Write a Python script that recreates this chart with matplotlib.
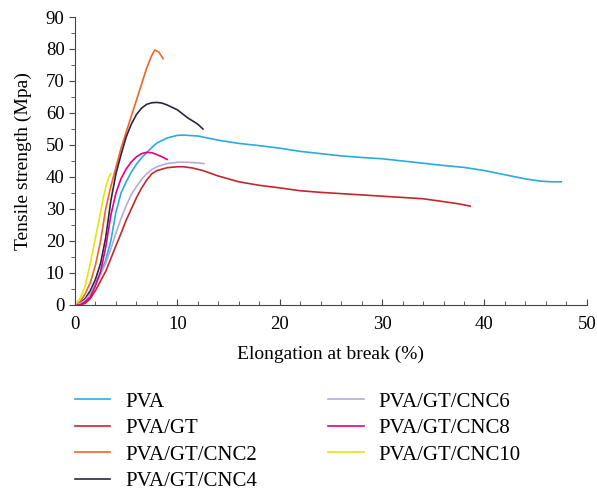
import matplotlib
matplotlib.use('AGG')
import matplotlib.pyplot as plt
from matplotlib.ticker import MultipleLocator

plt.rcParams['font.family'] = ['Liberation Serif', 'DejaVu Serif']

# PVA
pva_x = [0, 0.5, 1, 1.5, 2, 2.5, 3, 3.5, 4, 4.5, 5, 5.5, 6, 6.5, 7, 7.5, 8, 9, 10, 10.6,
         12, 14, 16, 18, 20, 22, 24, 26, 28, 30, 32, 34, 36, 38, 40, 42, 44, 45.5, 46.5, 47.5]
pva_y = [0, 0.5, 1.5, 3.5, 6.5, 10, 14, 20, 29, 35, 38.5, 41.5, 44, 46, 47.6, 49.2, 50.6, 52.2, 53, 53.1,
         52.8, 51.5, 50.5, 49.8, 49.0, 48.0, 47.3, 46.6, 46.1, 45.7, 45.0, 44.3, 43.6, 43.0, 42.0, 40.7, 39.4, 38.7, 38.5, 38.5]
# PVA/GT
gt_x = [0, 0.5, 1, 1.5, 2, 2.5, 3, 3.5, 4, 4.5, 5, 5.5, 6, 6.5, 7, 7.5, 8, 9, 10, 10.6,
        11.5, 12.5, 14, 16, 18, 20, 22, 24, 26, 28, 30, 32, 34, 36, 37.5, 38.6]
gt_y = [0, 0, 0.5, 2, 4.5, 7.5, 10.5, 14.5, 18.5, 22.4, 26.5, 30, 33.5, 36.5, 39, 41, 42, 42.9, 43.2, 43.2,
        42.8, 42, 40.3, 38.5, 37.4, 36.6, 35.7, 35.2, 34.8, 34.4, 34.0, 33.6, 33.2, 32.3, 31.6, 30.9]
# PVA/GT/CNC2
c2_x = [0, 0.5, 1.0, 1.5, 2.0, 2.5, 3.0, 3.5, 4.0, 4.5, 5.0, 5.5, 6.0, 6.5, 7.0, 7.5, 7.8, 8.2, 8.6]
c2_y = [0, 1, 3.5, 7, 12.5, 20, 30, 37, 43, 49, 54, 59, 64, 69, 74, 78, 79.7, 79, 77]
# PVA/GT/CNC4
c4_x = [0, 0.5, 1, 1.5, 2, 2.5, 3, 3.5, 4, 4.5, 5, 5.5, 6, 6.5, 7, 7.5, 8, 8.5, 9, 10, 11, 12, 12.5]
c4_y = [0, 0.5, 2, 4.5, 8, 13, 21, 32.5, 41, 47, 52.5, 56.5, 59.5, 61.5, 62.7, 63.2, 63.3, 63.1, 62.5, 61, 58.5, 56.5, 55]
# PVA/GT/CNC6
c6_x = [0, 0.5, 1, 1.5, 2, 2.5, 3, 3.5, 4, 4.5, 5, 5.5, 6, 6.5, 7, 7.5, 8, 9, 10, 11, 12, 12.6]
c6_y = [0, 0.5, 1.5, 3.5, 6.5, 9.5, 13, 17.5, 22.5, 27, 31, 34.5, 37, 39.2, 41, 42.3, 43.2, 44.2, 44.6, 44.6, 44.4, 44.2]
# PVA/GT/CNC8
c8_x = [0, 0.5, 1, 1.5, 2, 2.5, 3, 3.5, 4, 4.5, 5, 5.5, 6, 6.5, 7, 7.5, 8, 8.5, 9]
c8_y = [0, 0, 1, 2.5, 6, 10.5, 18, 28, 35, 39.5, 42.5, 44.7, 46.3, 47.3, 47.7, 47.6, 47, 46.3, 45.5]
# PVA/GT/CNC10
c10_x = [0, 0.5, 1, 1.5, 2, 2.5, 2.8, 3.1, 3.3, 3.5]
c10_y = [0, 2, 6, 13, 21, 29, 34, 38, 40, 41]

series = [
    ('PVA', pva_x, pva_y, '#29abe2'),
    ('PVA/GT', gt_x, gt_y, '#c1272d'),
    ('PVA/GT/CNC2', c2_x, c2_y, '#f26522'),
    ('PVA/GT/CNC4', c4_x, c4_y, '#2e2545'),
    ('PVA/GT/CNC6', c6_x, c6_y, '#b9a9d9'),
    ('PVA/GT/CNC8', c8_x, c8_y, '#e6007e'),
    ('PVA/GT/CNC10', c10_x, c10_y, '#e5e516'),
]

fig = plt.figure(figsize=(5.97, 4.90), dpi=100)
ax = fig.add_axes([0.1256, 0.3776, 0.8574, 0.5877])

for nombre, xs, ys, color in series:
    ax.plot(xs, ys, color=color, lw=1.2, label=nombre)

ax.set_xlim(0, 50)
ax.set_ylim(0, 90)
ax.xaxis.set_major_locator(MultipleLocator(10))
ax.xaxis.set_minor_locator(MultipleLocator(2))
ax.yaxis.set_major_locator(MultipleLocator(10))
ax.yaxis.set_minor_locator(MultipleLocator(5))
ax.tick_params(axis='x', which='both', direction='in', labelsize=13.5, color='#444444', pad=8)
ax.tick_params(axis='y', which='both', direction='out', labelsize=13.5, color='#444444')
ax.tick_params(which='major', length=4)
ax.tick_params(which='minor', length=3)
for lado in ['top', 'right']:
    ax.spines[lado].set_visible(False)
for lado in ['left', 'bottom']:
    ax.spines[lado].set_color('#444444')

ax.set_xlabel('Elongation at break (%)', fontsize=14, labelpad=9)
ax.set_ylabel('Tensile strength (Mpa)', fontsize=14, labelpad=10)

fig.legend(loc='upper left', bbox_to_anchor=(0.1256, 0.200), ncol=2, frameon=False,
           fontsize=15, handlelength=1.7, handletextpad=0.72, columnspacing=3.4,
           labelspacing=0.33, borderpad=0, borderaxespad=0)

plt.savefig('out.png')
plt.close()
